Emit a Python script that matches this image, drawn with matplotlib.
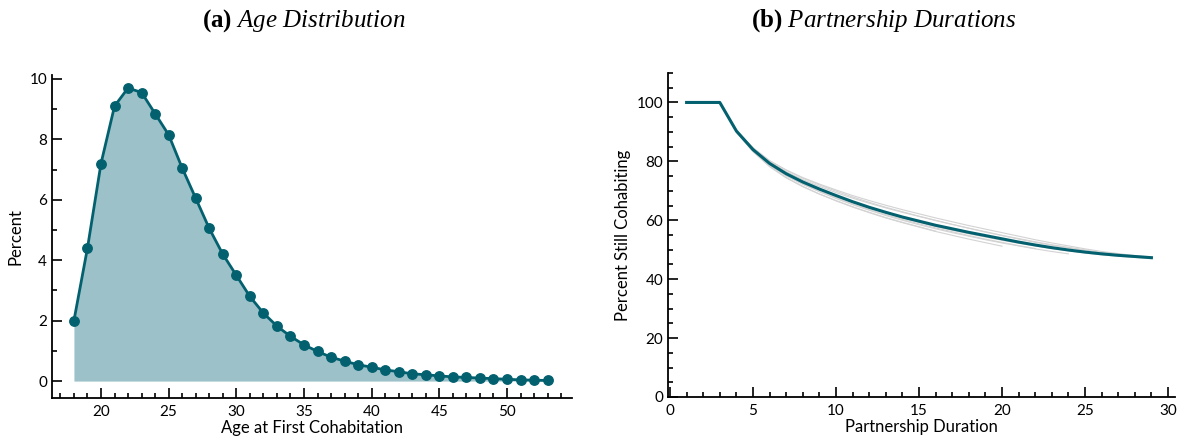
import matplotlib
matplotlib.use("Agg")
import matplotlib.pyplot as plt
from matplotlib.ticker import MultipleLocator

# ---------------- data ----------------
ages = list(range(18, 54))
age_pct = [2.0, 4.4, 7.2, 9.1, 9.7, 9.55, 8.85, 8.15, 7.05, 6.05, 5.05, 4.2,
           3.5, 2.8, 2.25, 1.82, 1.48, 1.2, 0.98, 0.79, 0.66, 0.54, 0.46, 0.37,
           0.31, 0.24, 0.21, 0.17, 0.14, 0.12, 0.1, 0.08, 0.06, 0.04, 0.03, 0.02]

dur = list(range(1, 30))
surv_main = [100, 100, 100, 90.3, 84.0, 79.3, 75.8, 73.0, 70.6, 68.4, 66.3,
             64.4, 62.7, 61.1, 59.7, 58.3, 57.1, 55.9, 54.8, 53.7, 52.6, 51.6,
             50.7, 49.9, 49.2, 48.6, 48.1, 47.7, 47.3]

gray_start = 4
g1 = [90.5, 84.6, 80.2, 77.1, 74.5, 72.3, 70.3, 68.4, 66.7, 65.1, 63.6, 62.2, 60.8,
      59.5, 58.2, 57.0, 55.8, 54.6, 53.4, 52.3, 51.3, 50.3, 49.4, 48.7, 48.0, 47.5]
g2 = [90.4, 84.3, 79.8, 76.5, 73.8, 71.5, 69.4, 67.5, 65.8, 64.2, 62.7, 61.3, 59.9,
      58.6, 57.3, 56.1, 54.9, 53.8, 52.7, 51.7, 50.8, 49.9, 49.1, 48.4]
g3 = [90.0, 83.4, 78.3, 74.5, 71.5, 68.9, 66.6, 64.5, 62.6, 60.8, 59.2, 57.7, 56.2,
      54.9, 53.6, 52.4, 51.2]
g4 = [89.9, 83.3, 78.2, 74.4, 71.4, 68.9, 66.7, 64.6, 62.7, 60.9, 59.3, 57.8, 56.3]
g5 = [90.1, 83.7, 78.8, 75.2, 72.3, 69.8, 67.6, 65.5, 63.6, 61.9, 60.3, 58.8, 57.4,
      56.1, 54.8, 53.6, 52.5, 51.4, 50.4]
g6 = [90.5, 84.6, 80.2, 77.0, 74.3, 72.0, 69.9, 67.9, 66.1, 64.4, 62.9, 61.4, 60.0,
      58.6, 57.3, 56.0, 54.8, 53.6, 52.5, 51.5, 50.6, 49.8]
g7 = [90.2, 83.9, 79.1, 75.6, 72.8, 70.3, 68.1, 66.0, 64.1, 62.4, 60.8, 59.3, 57.9,
      56.6, 55.4, 54.3, 53.2, 52.2, 51.3, 50.4, 49.6, 48.9, 48.3, 47.8, 47.4, 47.0]
g8 = [90.0, 83.6, 78.7, 75.1, 72.2, 69.7, 67.4, 65.3, 63.4, 61.6, 60.0, 58.5, 57.1,
      55.8, 54.6, 53.4, 52.3, 51.3, 50.3, 49.4, 48.6]
gray_series = [g1, g2, g3, g4, g5, g6, g7, g8]

# ---------------- style ----------------
plt.rcParams['font.family'] = ['Lato', 'DejaVu Sans']
plt.rcParams['mathtext.fontset'] = 'custom'
plt.rcParams['mathtext.rm'] = 'Liberation Serif'
plt.rcParams['mathtext.it'] = 'Liberation Serif:italic'
plt.rcParams['mathtext.bf'] = 'Liberation Serif:bold'

TEAL = '#03616f'
FILL = '#9cc1c9'

fig = plt.figure(figsize=(11.77, 4.38), dpi=100)
ax1 = fig.add_axes([52/1177, 40/438, 520/1177, 323/438])
ax2 = fig.add_axes([668/1177, 41/438, 507/1177, 324/438])

for ax in (ax1, ax2):
    for s in ('top', 'right'):
        ax.spines[s].set_visible(False)
    for s in ('left', 'bottom'):
        ax.spines[s].set_linewidth(1.3)
    ax.tick_params(which='both', direction='in', width=1.2, labelsize=11,
                   colors='black')
    ax.tick_params(which='major', length=7)
    ax.tick_params(which='minor', length=3.5)
    ax.tick_params(axis='x', pad=5)

# Panel (a)
ax1.fill_between(ages, age_pct, 0, color=FILL, linewidth=0)
ax1.plot(ages, age_pct, color=TEAL, lw=2.0, marker='o', ms=6.8, zorder=3)
ax1.set_xlim(16.38, 54.8)
ax1.set_ylim(-0.56, 10.13)
ax1.xaxis.set_major_locator(MultipleLocator(5))
ax1.xaxis.set_minor_locator(MultipleLocator(1))
ax1.yaxis.set_major_locator(MultipleLocator(2))
ax1.yaxis.set_minor_locator(MultipleLocator(1))
ax1.set_xlabel('Age at First Cohabitation', fontsize=12, labelpad=1)
ax1.set_ylabel('Percent', fontsize=12)

# Panel (b)
for g in gray_series:
    ax2.plot(list(range(gray_start, gray_start + len(g))), g,
             color='#d3d3d3', lw=0.8, zorder=1)
ax2.plot(dur, surv_main, color=TEAL, lw=2.2, zorder=3)
ax2.set_xlim(-0.12, 30.42)
ax2.set_ylim(0, 110)
ax2.set_yticks([0, 20, 40, 60, 80, 100])
ax2.xaxis.set_major_locator(MultipleLocator(5))
ax2.xaxis.set_minor_locator(MultipleLocator(1))
ax2.yaxis.set_minor_locator(MultipleLocator(5))
ax2.set_xlabel('Partnership Duration', fontsize=12, labelpad=1)
ax2.set_ylabel('Percent Still Cohabiting', fontsize=12)

fig.text(304/1177, 1 - 21/438, r'$\mathbf{(a)}$ $\mathit{Age\ Distribution}$',
         ha='center', va='center', fontsize=18)
fig.text(884/1177, 1 - 21/438, r'$\mathbf{(b)}$ $\mathit{Partnership\ Durations}$',
         ha='center', va='center', fontsize=18)

fig.savefig('out.png', dpi=100)
